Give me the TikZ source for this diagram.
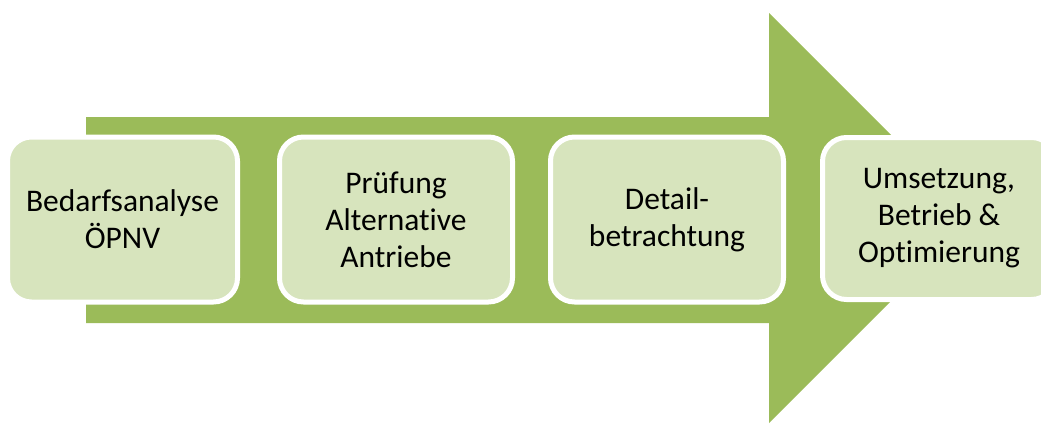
\documentclass[tikz,border=0pt]{standalone}
\usepackage{fontspec}
\setmainfont{Carlito}[Ligatures=NoCommon]
\definecolor{arrowgreen}{HTML}{9BBB59}
\definecolor{boxfill}{HTML}{D7E4BD}
\begin{document}
\begin{tikzpicture}[x=1pt,y=-1pt,
  stagebox/.style={draw=white, line width=5pt, fill=boxfill, rounded corners=24pt,
    inner sep=0pt, align=center, text=black,
    font=\fontsize{31.5}{37}\selectfont},
]
\useasboundingbox (0,0) rectangle (1041,424);
\fill[arrowgreen] (86,117) -- (769,117) -- (769,13) -- (974,218) -- (769,423) -- (769,323) -- (86,323) -- cycle;
\node[stagebox, minimum width=230pt, minimum height=165pt] (s1) at (122.5,219.5) {Bedarfsanalyse\\ÖPNV};
\node[stagebox, minimum width=233pt, minimum height=165pt] (s2) at (396,219.5) {Prüfung\\Alternative\\Antriebe};
\node[stagebox, minimum width=233pt, minimum height=165pt] (s3) at (667,219.5) {Detail-\\betrachtung};
\node[stagebox, minimum width=233pt, minimum height=162pt] (s4) at (939,218.5) {Umsetzung,\\Betrieb \&\\Optimierung};
\end{tikzpicture}
\end{document}
